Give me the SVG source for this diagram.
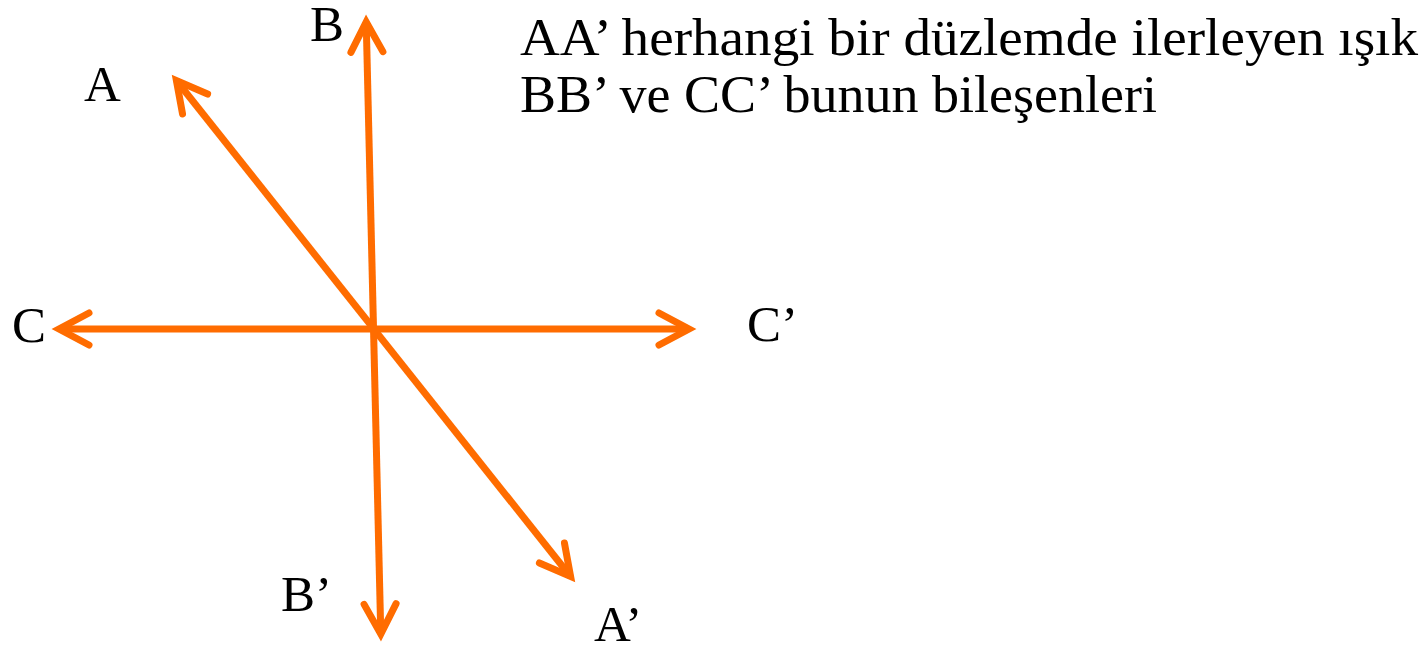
<svg xmlns="http://www.w3.org/2000/svg" width="1426" height="648" viewBox="0 0 1426 648">
<style>
.lbl{font-family:"Liberation Serif","DejaVu Serif",serif;font-size:51px;fill:#000}
.txt{font-family:"Liberation Serif","DejaVu Serif",serif;font-size:52px;fill:#000}
.arr{fill:none;stroke:#FF6C00;stroke-width:7;stroke-linecap:butt;marker-start:url(#ah);marker-end:url(#ah)}
</style>
<defs>
<marker id="ah" markerUnits="userSpaceOnUse" markerWidth="60" markerHeight="60" viewBox="-45 -30 60 60" refX="0" refY="0" orient="auto-start-reverse" overflow="visible">
<path d="M -30 -16 L 0 0 L -30 16" fill="none" stroke="#FF6C00" stroke-width="7" stroke-linecap="round" stroke-linejoin="miter"/>
</marker>
</defs>
<rect width="1426" height="648" fill="#fff"/>
<g id="connectors">
<line class="arr" x1="176.4" y1="80.5" x2="570.6" y2="576.5"/>
<line class="arr" x1="366.2" y1="22" x2="380.8" y2="634"/>
<line class="arr" x1="59" y1="329" x2="689" y2="329"/>
</g>
<g id="label-A"><text class="lbl" x="84" y="101">A</text></g>
<g id="label-A2"><text class="lbl" x="594" y="641">A’</text></g>
<g id="label-B"><text class="lbl" x="310" y="41">B</text></g>
<g id="label-B2"><text class="lbl" x="281" y="611">B’</text></g>
<g id="label-C"><text class="lbl" x="12" y="342">C</text></g>
<g id="label-C2"><text class="lbl" x="747" y="341">C’</text></g>
<g id="caption">
<text class="txt" x="520" y="55" textLength="898" lengthAdjust="spacingAndGlyphs">AA’ herhangi bir düzlemde ilerleyen ışık</text>
<text class="txt" x="520" y="112" textLength="637" lengthAdjust="spacingAndGlyphs">BB’ ve CC’ bunun bileşenleri</text>
</g>
</svg>
